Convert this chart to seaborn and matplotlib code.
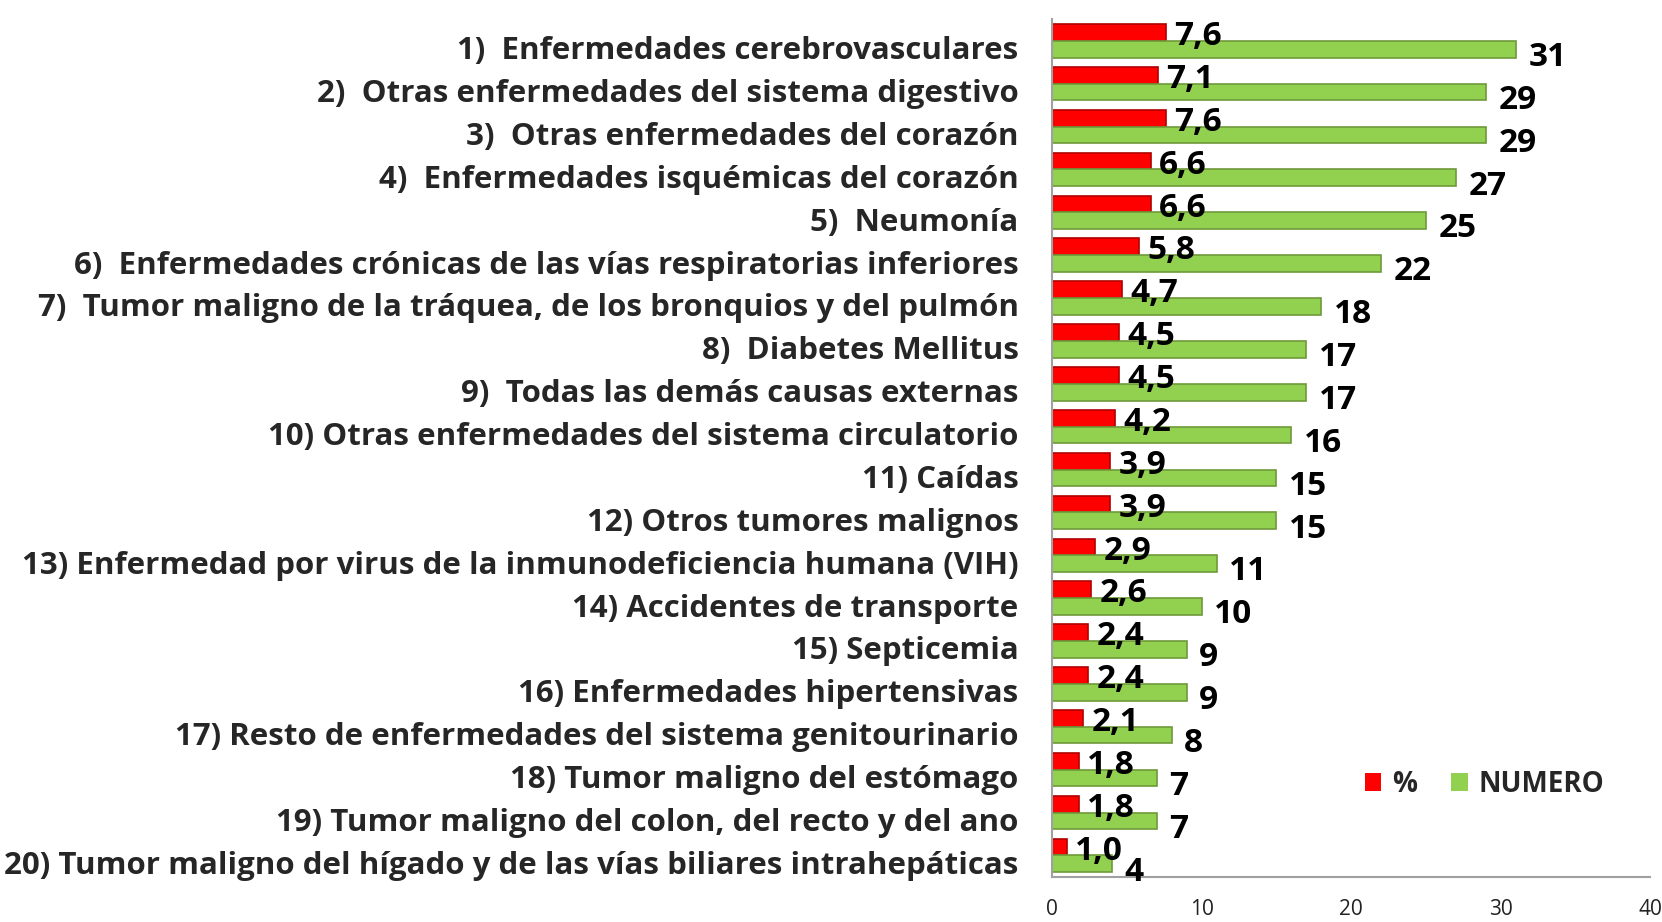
import pandas as pd
import matplotlib.pyplot as plt
import matplotlib.transforms as mtransforms
import seaborn as sns


# DATA
causas = [
    '1)  Enfermedades cerebrovasculares',
    '2)  Otras enfermedades del sistema digestivo',
    '3)  Otras enfermedades del corazón',
    '4)  Enfermedades isquémicas del corazón',
    '5)  Neumonía',
    '6)  Enfermedades crónicas de las vías respiratorias inferiores',
    '7)  Tumor maligno de la tráquea, de los bronquios y del pulmón',
    '8)  Diabetes Mellitus',
    '9)  Todas las demás causas externas',
    '10) Otras enfermedades del sistema circulatorio',
    '11) Caídas',
    '12) Otros tumores malignos',
    '13) Enfermedad por virus de la inmunodeficiencia humana (VIH)',
    '14) Accidentes de transporte',
    '15) Septicemia',
    '16) Enfermedades hipertensivas',
    '17) Resto de enfermedades del sistema genitourinario',
    '18) Tumor maligno del estómago',
    '19) Tumor maligno del colon, del recto y del ano',
    '20) Tumor maligno del hígado y de las vías biliares intrahepáticas',
]
porcentaje = [7.6, 7.1, 7.6, 6.6, 6.6, 5.8, 4.7, 4.5, 4.5, 4.2,
              3.9, 3.9, 2.9, 2.6, 2.4, 2.4, 2.1, 1.8, 1.8, 1.0]
numero = [31, 29, 29, 27, 25, 22, 18, 17, 17, 16,
          15, 15, 11, 10, 9, 9, 8, 7, 7, 4]
series = ['%', 'NUMERO']
colores = ['#FF0000', '#92D050']
x_ticks = [0, 10, 20, 30, 40]


def build_frame():
    df = pd.DataFrame({'causa': causas, '%': porcentaje, 'NUMERO': numero})
    return df.melt(id_vars='causa', var_name='serie', value_name='valor')


def plot_causas(df):
    sns.set_style('white')
    plt.rcParams['font.family'] = ['Open Sans', 'DejaVu Sans']

    fig = plt.figure(figsize=(16.62, 9.22), dpi=100)
    ax = fig.add_axes([0.633, 0.049, 0.36, 0.93])

    sns.barplot(
        data=df, y='causa', x='valor', hue='serie',
        order=causas, hue_order=series, palette=colores,
        orient='h', width=0.78, ax=ax, saturation=1,
        edgecolor=None, linewidth=0,
    )
    for cont, edge in zip(ax.containers, ['#B00000', '#6E9A3A']):
        for p in cont:
            p.set_edgecolor(edge)
            p.set_linewidth(1.2)

    # value labels
    fmts = [lambda v: f'{v:.1f}'.replace('.', ','), lambda v: f'{v:d}']
    pads = [6, 9]
    drops = [3, 6]
    for cont, vals, fmt, pad, drop in zip(ax.containers, [porcentaje, numero], fmts, pads, drops):
        texts = ax.bar_label(cont, labels=[fmt(v) for v in vals], padding=pad,
                             fontsize=24, fontweight='bold', color='black')
        for t in texts:
            t.set_zorder(5)
            t.xyann = (pad, -drop)

    ax.set_xlim(0, 40)
    ax.set_ylim(len(causas) - 0.5, -0.5)
    ax.set_xticks(x_ticks)
    ax.set_xticklabels([str(v) for v in x_ticks], fontsize=15, color='#222222')
    ax.set_yticks(range(len(causas)))
    ax.set_yticklabels(causas, fontsize=22.5, fontweight='bold')
    ax.set_yticks([i - 0.5 for i in range(len(causas) + 1)], minor=True)
    ax.tick_params(axis='y', which='major', length=0, pad=24)
    ax.tick_params(axis='y', which='minor', length=8, color='#A0A0A0', width=1.5)
    ax.tick_params(axis='x', which='major', length=8, color='#A0A0A0', width=1.5,
                   direction='in', pad=16)
    shift = mtransforms.ScaledTranslation(0, -5 / 72, fig.dpi_scale_trans)
    for lab in ax.get_yticklabels():
        lab.set_transform(lab.get_transform() + shift)
    ax.set_xlabel('')
    ax.set_ylabel('')

    for s in ['top', 'right']:
        ax.spines[s].set_visible(False)
    for s in ['left', 'bottom']:
        ax.spines[s].set_color('#A0A0A0')
        ax.spines[s].set_linewidth(1.5)

    ax.legend(loc='lower right', bbox_to_anchor=(0.965, 0.062), ncol=2,
              frameon=False, prop={'size': 20, 'weight': 'bold'},
              handlelength=0.6, handleheight=0.6, columnspacing=1.2,
              handletextpad=0.4)

    fig.savefig('out.png', dpi=100)
    plt.close(fig)


if __name__ == '__main__':
    plot_causas(build_frame())
